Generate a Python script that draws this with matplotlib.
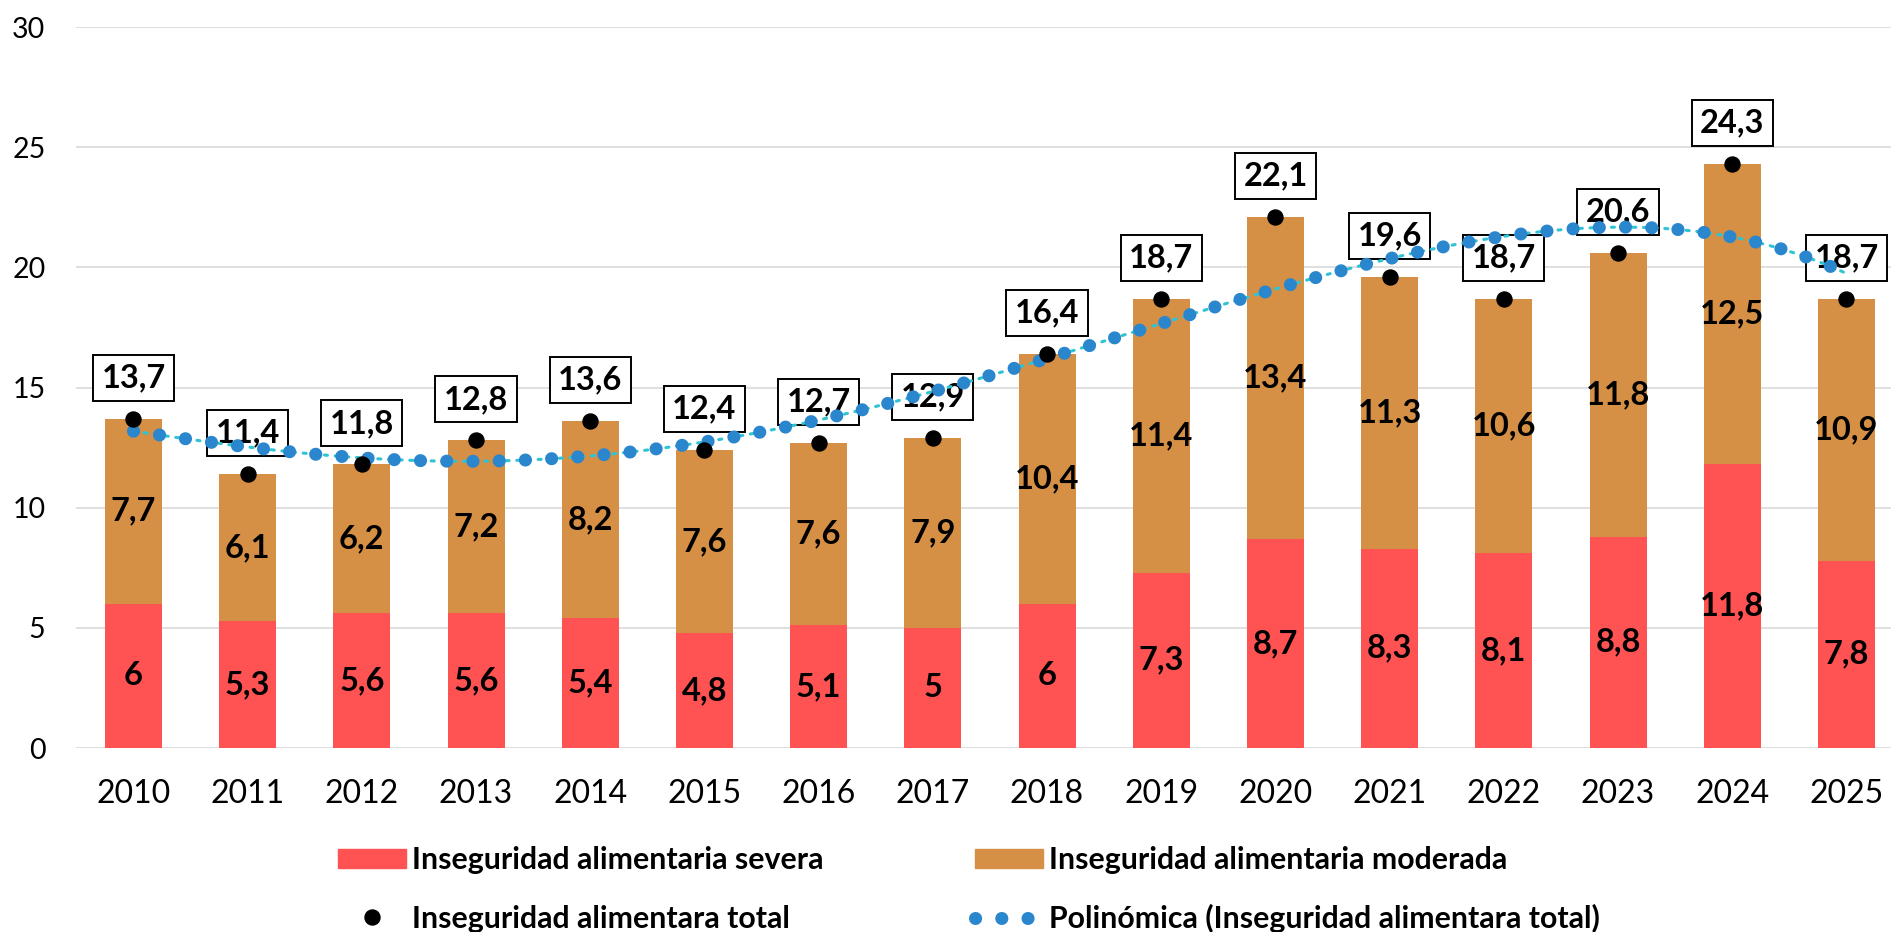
import numpy as np
import matplotlib.pyplot as plt
from matplotlib.lines import Line2D
from matplotlib.patches import Patch

plt.rcParams['font.family'] = ['Lato', 'DejaVu Sans']

years = ['2010', '2011', '2012', '2013', '2014', '2015', '2016', '2017',
         '2018', '2019', '2020', '2021', '2022', '2023', '2024', '2025']
severa = [6, 5.3, 5.6, 5.6, 5.4, 4.8, 5.1, 5, 6, 7.3, 8.7, 8.3, 8.1, 8.8, 11.8, 7.8]
moderada = [7.7, 6.1, 6.2, 7.2, 8.2, 7.6, 7.6, 7.9, 10.4, 11.4, 13.4, 11.3, 10.6, 11.8, 12.5, 10.9]
total = [13.7, 11.4, 11.8, 12.8, 13.6, 12.4, 12.7, 12.9, 16.4, 18.7, 22.1, 19.6, 18.7, 20.6, 24.3, 18.7]

c_sev = '#FF5252'
c_mod = '#D69046'
c_dot = '#2A86CD'
c_teal = '#2EC4D2'


def fmt(v):
    return f'{v:g}'.replace('.', ',')


fig = plt.figure(figsize=(18.91, 9.32), dpi=100)
ax = fig.add_axes([0.0402, 0.1974, 0.9598, 0.7736])

x = np.arange(len(years))
ax.bar(x, severa, 0.5, color=c_sev, zorder=2)
ax.bar(x, moderada, 0.5, bottom=severa, color=c_mod, zorder=2)

for i in x:
    ax.text(i, severa[i] / 2, fmt(severa[i]), ha='center', va='center',
            fontsize=23.5, fontweight='bold', zorder=3)
    ax.text(i, severa[i] + moderada[i] / 2, fmt(moderada[i]), ha='center', va='center',
            fontsize=23.5, fontweight='bold', zorder=3)
    ax.annotate(fmt(total[i]), (i, total[i]), xytext=(0, 29.5), textcoords='offset points',
                ha='center', va='center', fontsize=23.5, fontweight='bold', zorder=4,
                bbox=dict(boxstyle='square,pad=0.26', fc='white', ec='black', lw=1.4))

# polynomial trend of the total, as in the original chart
xf = np.arange(1, len(total) + 1)
coef = np.polyfit(xf, total, 6)
xs = np.linspace(1, len(total), 400)
ys = np.polyval(coef, xs)
ax.plot(xs - 1, ys, color=c_teal, lw=2.2, ls=(0, (1, 2.5)), dash_capstyle='round', zorder=5)
ax.plot(xs - 1, ys, color=c_dot, lw=9.4, ls=(0, (0.01, 2.0)), dash_capstyle='round', zorder=6)

ax.plot(x, total, 'o', color='black', ms=10.8, zorder=7)

ax.set_ylim(0, 30)
ax.set_xlim(-0.503, 15.39)
ax.set_yticks(range(0, 31, 5))
ax.set_xticks(x)
ax.set_xticklabels(years, fontsize=23)
ax.tick_params(axis='y', labelsize=20.5, length=0, pad=22)
ax.tick_params(axis='x', length=0, pad=22)
ax.grid(axis='y', color='#D9D9D9', lw=1.2, zorder=0)
ax.set_axisbelow(True)
for s in ax.spines.values():
    s.set_visible(False)

h_sev = Patch(color=c_sev)
h_mod = Patch(color=c_mod)
h_tot = Line2D([], [], ls='none', marker='o', color='black', ms=10.8)
h_pol = Line2D([], [], color=c_dot, lw=9.4, ls=(0, (0.01, 2.0)), dash_capstyle='round')

yc = 1 - 889.5 / 932
for hs, labs, xl in [([h_sev, h_tot], ['Inseguridad alimentaria severa', 'Inseguridad alimentara total'], 338),
                     ([h_mod, h_pol], ['Inseguridad alimentaria moderada', 'Polinómica (Inseguridad alimentara total)'], 975)]:
    fig.legend(hs, labs, loc='center left', bbox_to_anchor=(xl / 1891, yc), frameon=False,
               prop=dict(size=21.8, weight='bold'), handlelength=2.24, handleheight=0.6,
               handletextpad=0.22, labelspacing=1.0, borderpad=0, borderaxespad=0)

fig.savefig('out.png', dpi=100)
